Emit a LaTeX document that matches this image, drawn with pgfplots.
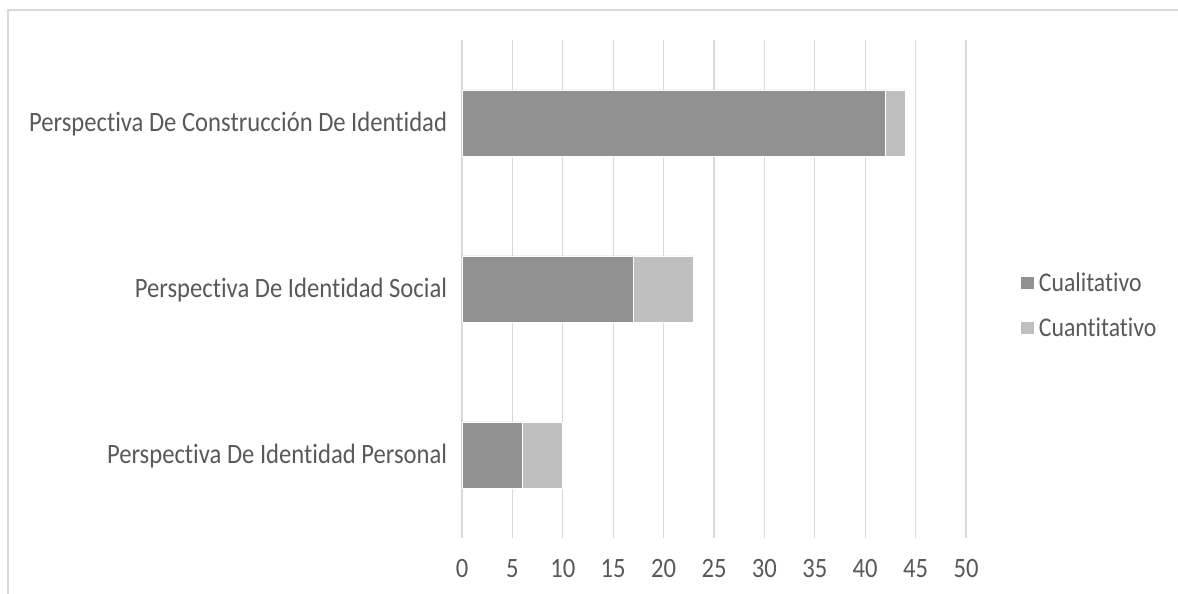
\documentclass[border=0pt]{standalone}
\usepackage{pgfplots}
\pgfplotsset{compat=1.18}
\usepackage{fontspec}
\setmainfont{Carlito}[FakeStretch=0.88, Ligatures=NoCommon]
\definecolor{cual}{HTML}{919191}
\definecolor{cuan}{HTML}{BFBFBF}
\definecolor{gridc}{HTML}{D9D9D9}
\definecolor{txt}{HTML}{595959}
\begin{document}
\begin{tikzpicture}[x=1pt,y=1pt]
\useasboundingbox (0,0) rectangle (1178,594);
\draw[gridc, line width=1.3pt] (8,-5) -- (8,584) -- (1190,584);
\begin{axis}[
  at={(462pt,56pt)}, anchor=south west,
  scale only axis, width=504pt, height=498pt,
  xbar stacked, bar width=66pt,
  xmin=0, xmax=50, ymin=-0.5, ymax=2.5,
  xtick={0,5,...,50}, ytick={0,1,2},
  yticklabels={Perspectiva De Identidad Personal, Perspectiva De Identidad Social, Perspectiva De Construcción De Identidad},
  axis line style={draw=none}, major tick length=0pt,
  xmajorgrids, grid style={gridc, line width=1.3pt},
  /pgf/number format/assume math mode=true,
  tick label style={font=\fontsize{28}{32}\selectfont, text=txt, inner sep=0pt, outer sep=0pt},
  xticklabel style={anchor=base, yshift=-40pt},
  yticklabel style={anchor=base east, yshift=-9pt, xshift=-15pt},
  legend image code/.code={\fill[#1] (0pt,-6.5pt) rectangle (14pt,6.5pt);},
  legend style={draw=none, fill=none, font=\fontsize{27}{32}\selectfont, text=txt,
    at={(rel axis cs:1.101,0.539)}, anchor=north west, row sep=23pt,
    nodes={inner sep=1pt, outer sep=0pt}, column sep=3pt},
  legend cell align=left,
]
\addplot[fill=cual, draw=white, line width=0.8pt] coordinates {(6,0) (17,1) (42,2)};
\addplot[fill=cuan, draw=white, line width=0.8pt] coordinates {(4,0) (6,1) (2,2)};
\legend{Cualitativo, Cuantitativo}
\end{axis}
\end{tikzpicture}
\end{document}
